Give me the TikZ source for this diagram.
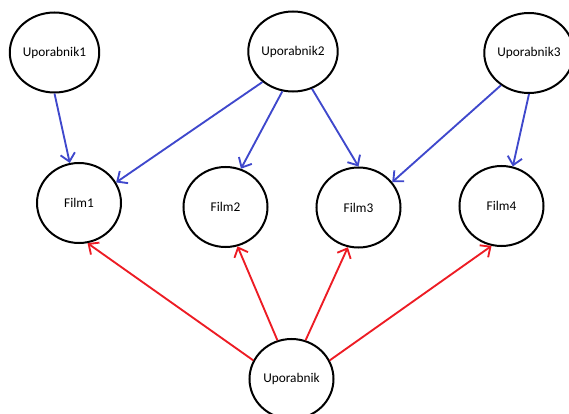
\documentclass[tikz,border=0pt]{standalone}
\usepackage{fontspec}
\setmainfont{Carlito}
\usetikzlibrary{shapes.geometric,arrows.meta}
\definecolor{indigo}{RGB}{63,72,204}
\definecolor{paintred}{RGB}{237,28,36}

\begin{document}
\begin{tikzpicture}[x=0.75pt,y=-0.75pt,
  vozel/.style={ellipse,draw,line width=1.5pt,minimum width=63pt,minimum height=60pt,inner sep=0pt,font=\fontsize{10}{12}\selectfont},
  puscica/.style={line width=1.4pt,-{Straight Barb[length=6pt,width=11pt]}}]
\useasboundingbox (0,0) rectangle (569,414);
% uporabniki
\node[vozel] (u1) at (54.5,52.5) {Uporabnik1};
\node[vozel] (u2) at (293,51.5) {Uporabnik2};
\node[vozel] (u3) at (529,53) {Uporabnik3};
% filmi
\node[vozel] (f1) at (79,203) {Film1};
\node[vozel] (f2) at (225.5,207) {Film2};
\node[vozel] (f3) at (358.5,207.5) {Film3};
\node[vozel] (f4) at (501.5,206) {Film4};
\node[vozel] (u) at (291.5,379) {Uporabnik};
% ocene
\draw[puscica,indigo] (u1.-90) -- (f1.103);
\draw[puscica,indigo] (u2.225.5) -- (f1.29);
\draw[puscica,indigo] (u2.255) -- (f2.68);
\draw[puscica,indigo] (u2.297) -- (f3.90);
\draw[puscica,indigo] (u3.229) -- (f3.37);
\draw[puscica,indigo] (u3.270) -- (f4.74.5);
\foreach \f/\a/\b in {f1/154/282,f2/110/287,f3/70/255,f4/26/256} {
\draw[puscica,paintred] (u.\a) -- (\f.\b);
}
\end{tikzpicture}
\end{document}
